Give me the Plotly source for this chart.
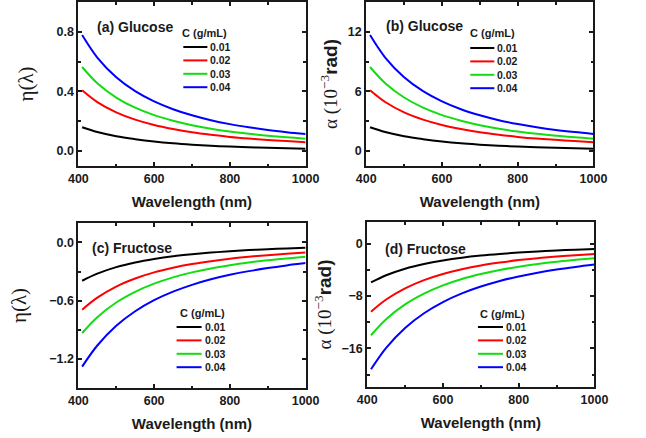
import plotly.graph_objects as go

# ---------------- data ----------------
wavelength = [410, 450, 500, 550, 600, 650, 700, 750, 800, 850, 900, 950, 1000]
concentrations = ["0.01", "0.02", "0.03", "0.04"]
colors = ["#000000", "#ff0000", "#11dd11", "#0000ff"]

# (a) Glucose, eta(lambda)
eta_glu_001 = [0.160, 0.128, 0.100, 0.080, 0.064, 0.052, 0.043, 0.036, 0.030, 0.026, 0.022, 0.019, 0.016]
eta_glu_002 = [0.408, 0.329, 0.260, 0.211, 0.175, 0.148, 0.126, 0.109, 0.095, 0.084, 0.075, 0.067, 0.060]
eta_glu_003 = [0.564, 0.455, 0.359, 0.291, 0.241, 0.204, 0.174, 0.150, 0.131, 0.116, 0.103, 0.092, 0.083]
eta_glu_004 = [0.778, 0.627, 0.495, 0.402, 0.333, 0.281, 0.240, 0.207, 0.181, 0.160, 0.142, 0.127, 0.114]

# (b) Glucose, alpha (1e-3 rad)
alpha_glu_001 = [2.40, 1.92, 1.50, 1.20, 0.96, 0.78, 0.65, 0.54, 0.45, 0.39, 0.33, 0.29, 0.24]
alpha_glu_002 = [6.12, 4.94, 3.90, 3.17, 2.63, 2.22, 1.89, 1.64, 1.43, 1.26, 1.13, 1.01, 0.90]
alpha_glu_003 = [8.46, 6.83, 5.39, 4.37, 3.62, 3.06, 2.61, 2.25, 1.97, 1.74, 1.55, 1.38, 1.25]
alpha_glu_004 = [11.67, 9.41, 7.43, 6.03, 5.00, 4.21, 3.60, 3.11, 2.72, 2.40, 2.13, 1.91, 1.72]

# (c) Fructose, eta(lambda)
eta_fru_001 = [-0.395, -0.322, -0.255, -0.207, -0.171, -0.143, -0.122, -0.105, -0.091, -0.079, -0.070, -0.062, -0.056]
eta_fru_002 = [-0.693, -0.569, -0.455, -0.372, -0.309, -0.261, -0.223, -0.193, -0.168, -0.148, -0.131, -0.117, -0.105]
eta_fru_003 = [-0.933, -0.770, -0.619, -0.509, -0.425, -0.360, -0.309, -0.268, -0.235, -0.207, -0.184, -0.165, -0.148]
eta_fru_004 = [-1.280, -1.062, -0.859, -0.709, -0.595, -0.507, -0.437, -0.380, -0.334, -0.296, -0.264, -0.237, -0.213]

# (d) Fructose, alpha (1e-3 rad)
alpha_fru_001 = [-5.93, -4.83, -3.83, -3.11, -2.57, -2.15, -1.83, -1.58, -1.37, -1.19, -1.05, -0.93, -0.84]
alpha_fru_002 = [-10.40, -8.54, -6.83, -5.58, -4.64, -3.92, -3.35, -2.90, -2.52, -2.22, -1.97, -1.76, -1.58]
alpha_fru_003 = [-14.00, -11.55, -9.29, -7.64, -6.38, -5.40, -4.64, -4.02, -3.53, -3.11, -2.76, -2.48, -2.22]
alpha_fru_004 = [-19.20, -15.93, -12.89, -10.64, -8.93, -7.61, -6.56, -5.70, -5.01, -4.44, -3.96, -3.56, -3.20]

panel_labels = ["(a) Glucose", "(b) Glucose", "(c) Fructose", "(d) Fructose"]
legend_title = "C (g/mL)"
x_title = "Wavelength (nm)"
eta_title = "η(λ)"
alpha_title = ('α (10<sup>−3</sup><span style="font-family:Liberation Sans;'
               'font-weight:bold">rad)</span>')

panels = [
    [eta_glu_001, eta_glu_002, eta_glu_003, eta_glu_004],
    [alpha_glu_001, alpha_glu_002, alpha_glu_003, alpha_glu_004],
    [eta_fru_001, eta_fru_002, eta_fru_003, eta_fru_004],
    [alpha_fru_001, alpha_fru_002, alpha_fru_003, alpha_fru_004],
]

# ---------------- layout geometry ----------------
W, H = 646, 438
def px_x(v):
    return v / W
def px_y(v):
    return 1 - v / H

x_domains = [[px_x(71), px_x(307)], [px_x(370), px_x(606)],
             [px_x(71), px_x(307)], [px_x(371), px_x(607)]]
y_domains = [[px_y(166), px_y(2)], [px_y(166), px_y(2)],
             [px_y(388), px_y(223)], [px_y(387), px_y(222)]]
y_ranges = [[-0.1, 1.0], [-1.5, 15], [-1.5, 0.2], [-21.9, 3.3]]
y_dticks = [0.4, 6, 0.6, 8]
y_tick0 = [0, 0, 0, 0]
y_formats = [".1f", "d", ".1f", "d"]
y_titles = [eta_title, alpha_title, eta_title, alpha_title]
y_title_sizes = [21, 19, 21, 19]
y_title_standoffs = [17, 5, 17, 5]

label_pos = [(88, 27), (388, 26), (83, 248), (387, 249)]
# legend anchor: (title_x, title_y, line_x0, line_x1, text_x, first_row_y, row_step)
legend_pos = [
    (177, 33, 180, 205, 206, 47, 13.4),
    (476, 33, 478, 503, 504, 48, 13.4),
    (174, 313, 173, 199, 200, 327, 13.4),
    (486, 314, 486, 512, 513, 327, 13.4),
]

FONT = "Liberation Sans"
SERIF = "Liberation Serif"
AXC = "#1a1a1a"

fig = go.Figure()

for p, series in enumerate(panels):
    xa = "x" if p == 0 else f"x{p+1}"
    ya = "y" if p == 0 else f"y{p+1}"
    for i, vals in enumerate(series):
        fig.add_trace(go.Scatter(
            x=wavelength, y=vals, mode="lines", xaxis=xa, yaxis=ya,
            line=dict(color=colors[i], width=2, shape="spline", smoothing=1.0),
            name=concentrations[i], showlegend=False,
        ))

layout = dict(
    width=W, height=H, margin=dict(l=0, r=0, t=0, b=0),
    paper_bgcolor="white", plot_bgcolor="white",
    font=dict(family=FONT, color=AXC),
    showlegend=False,
)

shapes = []
annotations = []
for p in range(4):
    xk = "xaxis" if p == 0 else f"xaxis{p+1}"
    yk = "yaxis" if p == 0 else f"yaxis{p+1}"
    yref = "y" if p == 0 else f"y{p+1}"
    xref = "x" if p == 0 else f"x{p+1}"
    layout[xk] = dict(
        domain=x_domains[p], anchor=yref, range=[400, 1000],
        tick0=400, dtick=200, ticks="inside", ticklen=4, tickwidth=1.5,
        tickcolor=AXC, showline=True, linecolor=AXC, linewidth=2,
        mirror="allticks", showgrid=False, zeroline=False,
        minor=dict(ticks="inside", ticklen=2.5, tickwidth=1.5, dtick=100,
                   tickcolor=AXC, showgrid=False),
        tickfont=dict(family=FONT, size=12.5, color=AXC, weight="bold"),
        title=dict(text=x_title, standoff=11,
                   font=dict(family=FONT, size=15, color=AXC, weight="bold")),
        fixedrange=True,
    )
    layout[yk] = dict(
        domain=y_domains[p], anchor=xref, range=y_ranges[p],
        tick0=y_tick0[p], dtick=y_dticks[p], tickformat=y_formats[p],
        ticks="inside", ticklen=4, tickwidth=1.5, tickcolor=AXC,
        showline=True, linecolor=AXC, linewidth=2, mirror="allticks",
        showgrid=False, zeroline=False,
        minor=dict(ticks="inside", ticklen=2.5, tickwidth=1.5,
                   dtick=y_dticks[p] / 2, tickcolor=AXC, showgrid=False),
        tickfont=dict(family=FONT, size=12.5, color=AXC, weight="bold"),
        title=dict(text=y_titles[p], standoff=y_title_standoffs[p],
                   font=dict(family=SERIF, size=y_title_sizes[p], color=AXC)),
        fixedrange=True,
    )
    lx, ly = label_pos[p]
    annotations.append(dict(
        text=panel_labels[p], xref="paper", yref="paper",
        x=px_x(lx), y=px_y(ly), xanchor="left", yanchor="middle",
        showarrow=False, font=dict(family=FONT, size=14, color=AXC, weight="bold")))
    tx, ty, lx0, lx1, txx, ry0, rstep = legend_pos[p]
    annotations.append(dict(
        text=legend_title, xref="paper", yref="paper",
        x=px_x(tx), y=px_y(ty), xanchor="left", yanchor="middle",
        showarrow=False, font=dict(family=FONT, size=11, color=AXC, weight="bold")))
    for i, c in enumerate(concentrations):
        yy = ry0 + i * rstep
        shapes.append(dict(type="line", xref="paper", yref="paper",
                           x0=px_x(lx0), x1=px_x(lx1), y0=px_y(yy), y1=px_y(yy),
                           line=dict(color=colors[i], width=2)))
        annotations.append(dict(
            text=c, xref="paper", yref="paper",
            x=px_x(txx), y=px_y(yy), xanchor="left", yanchor="middle",
            showarrow=False,
            font=dict(family=FONT, size=10.5, color=AXC, weight="bold")))

layout["shapes"] = shapes
layout["annotations"] = annotations
fig.update_layout(**layout)

fig.write_html("out.html")
